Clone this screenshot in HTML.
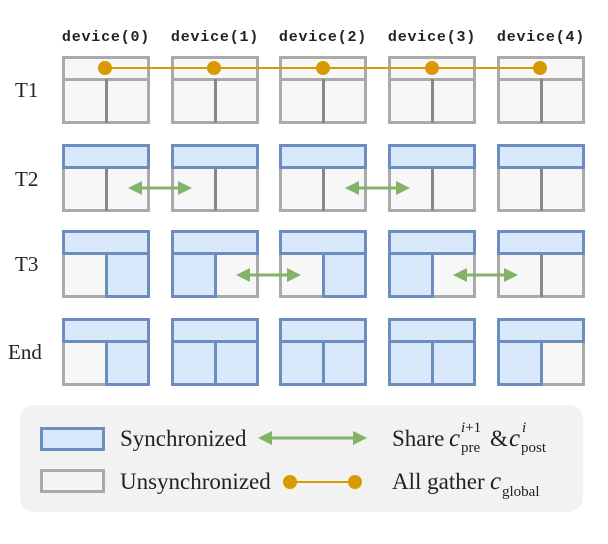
<!DOCTYPE html>
<html><head><meta charset="utf-8"><style>
body{margin:0;background:#fff;width:608px;height:544px;overflow:hidden}
svg{display:block}
.lab{font-family:"Liberation Serif",serif;font-size:21px;fill:#222}
.dev{font-family:"Liberation Mono",monospace;font-size:15px;font-weight:bold;fill:#222;letter-spacing:0.8px}
.lg{font-family:"Liberation Serif",serif;font-size:23px;fill:#222}
.mi{font-family:"Liberation Serif",serif;font-size:25px;font-style:italic;fill:#222}
.sm{font-family:"Liberation Serif",serif;font-size:15px;fill:#222}
</style></head><body>
<svg id="s" width="608" height="544" viewBox="0 0 608 544" xmlns="http://www.w3.org/2000/svg">
<text class="dev" x="106" y="41" text-anchor="middle">device(0)</text>
<text class="dev" x="215" y="41" text-anchor="middle">device(1)</text>
<text class="dev" x="323" y="41" text-anchor="middle">device(2)</text>
<text class="dev" x="432" y="41" text-anchor="middle">device(3)</text>
<text class="dev" x="541" y="41" text-anchor="middle">device(4)</text>
<text class="lab" x="15" y="97">T1</text>
<text class="lab" x="15" y="186">T2</text>
<text class="lab" x="15" y="271">T3</text>
<text class="lab" x="8" y="359">End</text>
<g id="boxes"></g>
<g id="ov"></g>
<rect x="20" y="405" width="563" height="107" rx="14" fill="#f2f2f2"/>
<rect x="41.5" y="428.5" width="62" height="21" fill="#dae8fc" stroke="#6c8ebf" stroke-width="3"/>
<rect x="41.5" y="470.5" width="62" height="21" fill="#f5f5f5" stroke="#aaa" stroke-width="3"/>
<text class="lg" x="120" y="446">Synchronized</text>
<text class="lg" x="120" y="489">Unsynchronized</text>
<line x1="270" y1="438" x2="355" y2="438" stroke="#82b366" stroke-width="3"/>
<polygon points="258,438 272,431 272,445" fill="#82b366"/>
<polygon points="367,438 353,431 353,445" fill="#82b366"/>
<line x1="290" y1="482" x2="355" y2="482" stroke="#d79b00" stroke-width="2"/>
<circle cx="290" cy="482" r="7" fill="#d79b00"/>
<circle cx="355" cy="482" r="7" fill="#d79b00"/>
<text class="lg" x="392" y="446">Share</text>
<text class="mi" x="449" y="446">c</text>
<text class="sm" x="461" y="432" font-style="italic">i<tspan font-style="normal">+1</tspan></text>
<text class="sm" x="461" y="452">pre</text>
<text class="lg" x="490" y="446">&amp;</text>
<text class="mi" x="509" y="446">c</text>
<text class="sm" x="522" y="432" font-style="italic">i</text>
<text class="sm" x="521" y="452">post</text>
<text class="lg" x="392" y="489">All gather</text>
<text class="mi" x="490" y="489">c</text>
<text class="sm" x="502" y="496">global</text>
</svg>
<script>
var xs=[62,171,279,388,497], ys=[56,144,230,318];
var st=[
 [[0,0,0],[0,0,0],[0,0,0],[0,0,0],[0,0,0]],
 [[1,0,0],[1,0,0],[1,0,0],[1,0,0],[1,0,0]],
 [[1,0,1],[1,1,0],[1,0,1],[1,1,0],[1,0,0]],
 [[1,0,1],[1,1,1],[1,1,1],[1,1,1],[1,1,0]]];
var h='';
function r(x,y,w,hh,b){return '<rect x="'+(x+1.5)+'" y="'+(y+1.5)+'" width="'+(w-3)+'" height="'+(hh-3)+'" fill="'+(b?'#dae8fc':'#f7f7f7')+'" stroke="'+(b?'#6c8ebf':'#aaa')+'" stroke-width="3"/>';}
for(var i=0;i<4;i++)for(var d=0;d<5;d++){
 var x=xs[d],y=ys[i],s=st[i][d],cells=[[x,y,88,25,s[0]],[x,y+22,46,46,s[1]],[x+43,y+22,45,46,s[2]]];
 cells.forEach(function(c){if(!c[4])h+=r(c[0],c[1],c[2],c[3],0);});
 if(!s[1]&&!s[2])h+='<line x1="'+(x+44.5)+'" y1="'+(y+23)+'" x2="'+(x+44.5)+'" y2="'+(y+67)+'" stroke="#888" stroke-width="3"/>';
 cells.forEach(function(c){if(c[4])h+=r(c[0],c[1],c[2],c[3],1);});
}
document.getElementById('boxes').innerHTML=h;
var o='<line x1="105" y1="68" x2="540" y2="68" stroke="#d79b00" stroke-width="2"/>';
[105,214,323,432,540].forEach(function(x){o+='<circle cx="'+x+'" cy="68" r="7" fill="#d79b00"/>';});
function arr(a,b,y){return '<line x1="'+(a+12)+'" y1="'+y+'" x2="'+(b-12)+'" y2="'+y+'" stroke="#82b366" stroke-width="3"/><polygon points="'+a+','+y+' '+(a+14)+','+(y-7)+' '+(a+14)+','+(y+7)+'" fill="#82b366"/><polygon points="'+b+','+y+' '+(b-14)+','+(y-7)+' '+(b-14)+','+(y+7)+'" fill="#82b366"/>';}
o+=arr(128,192,188)+arr(345,410,188)+arr(236,301,275)+arr(453,518,275);
document.getElementById('ov').innerHTML=o;
</script>
</body></html>
